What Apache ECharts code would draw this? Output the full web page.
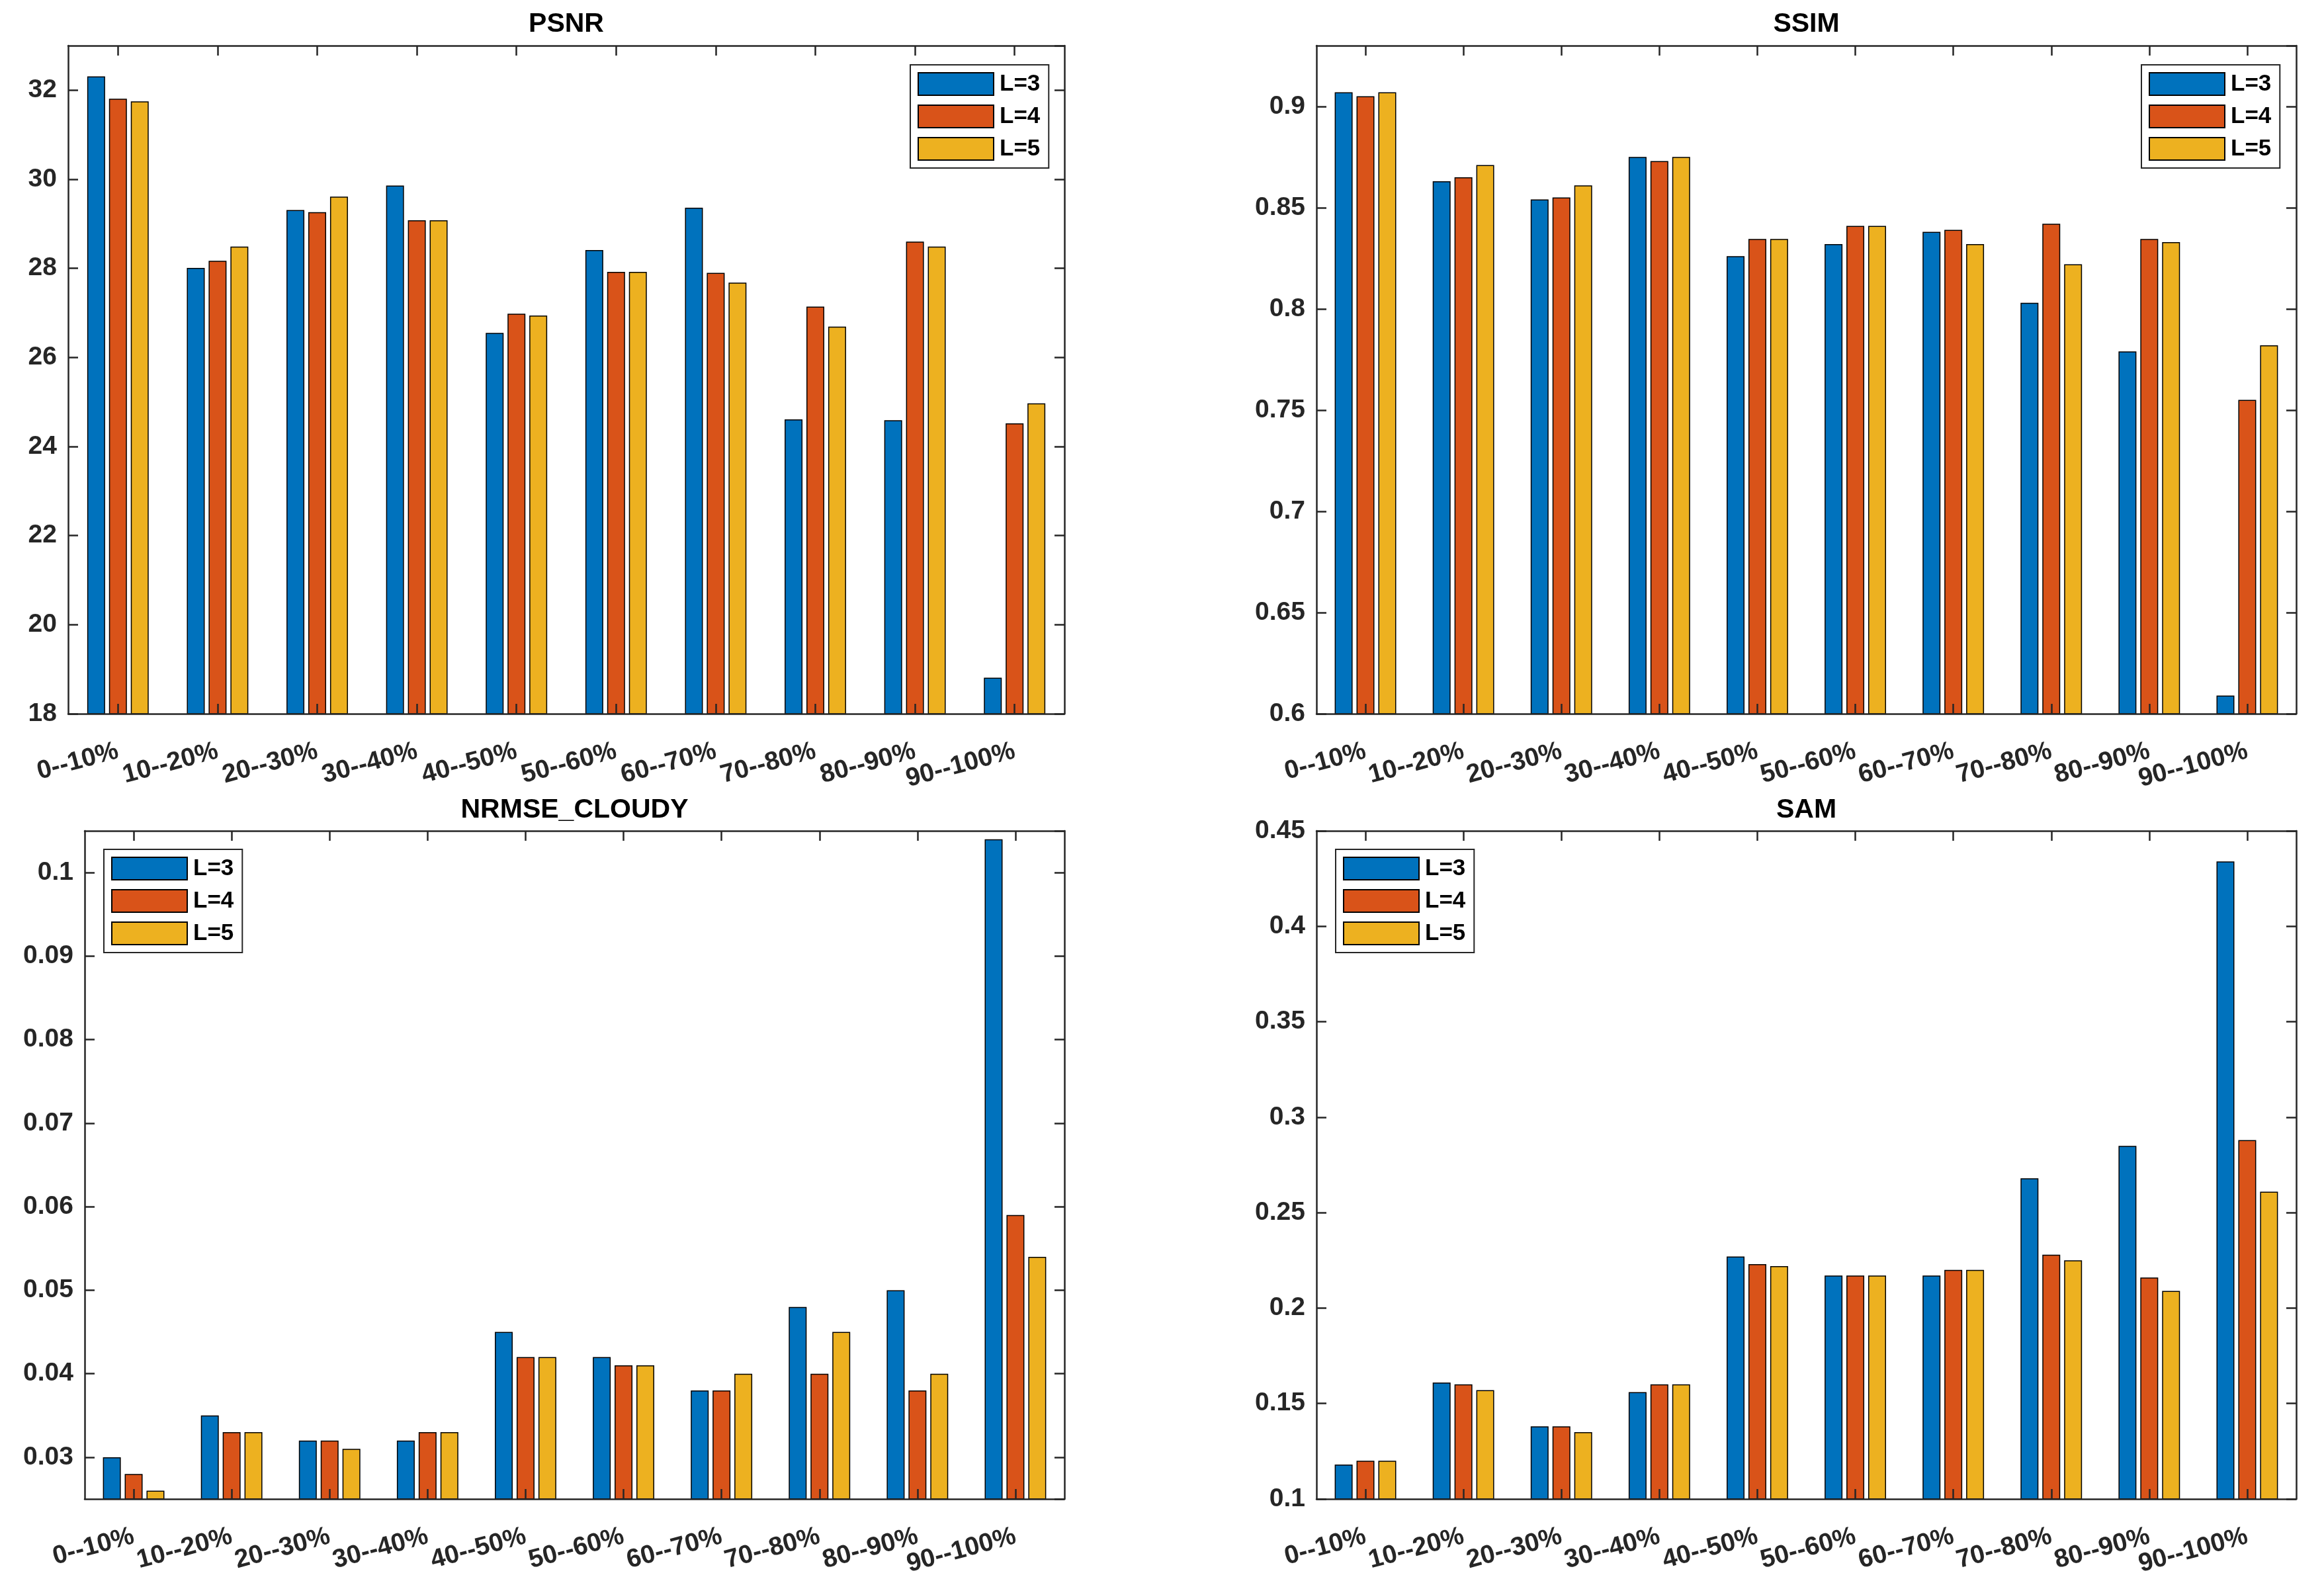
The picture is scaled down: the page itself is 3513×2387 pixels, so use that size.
<!DOCTYPE html>
<html>
<head>
<meta charset="utf-8">
<script src="https://cdn.jsdelivr.net/npm/echarts@6/dist/echarts.min.js"></script>
<style>
html,body{margin:0;padding:0;background:#fff;}
#chart{width:3513px;height:2387px;}
</style>
</head>
<body>
<div id="chart"></div>
<script>
// ---- data ----
const categories = ['0--10%','10--20%','20--30%','30--40%','40--50%','50--60%','60--70%','70--80%','80--90%','90--100%'];
const seriesNames = ['L=3','L=4','L=5'];
const colors = ['#0072BD','#D95319','#EDB120'];

const psnrL3 = [32.31, 28.01, 29.31, 29.86, 26.55, 28.41, 29.36, 24.61, 24.59, 18.81];
const psnrL4 = [31.81, 28.17, 29.26, 29.08, 26.98, 27.92, 27.90, 27.14, 28.60, 24.52];
const psnrL5 = [31.75, 28.49, 29.61, 29.08, 26.94, 27.92, 27.68, 26.69, 28.49, 24.97];

const ssimL3 = [0.907, 0.863, 0.854, 0.875, 0.826, 0.832, 0.838, 0.803, 0.779, 0.609];
const ssimL4 = [0.905, 0.865, 0.855, 0.873, 0.8345, 0.841, 0.839, 0.842, 0.8345, 0.755];
const ssimL5 = [0.907, 0.871, 0.861, 0.875, 0.8345, 0.841, 0.832, 0.822, 0.833, 0.782];

const nrmseL3 = [0.030, 0.035, 0.032, 0.032, 0.045, 0.042, 0.038, 0.048, 0.050, 0.104];
const nrmseL4 = [0.028, 0.033, 0.032, 0.033, 0.042, 0.041, 0.038, 0.040, 0.038, 0.059];
const nrmseL5 = [0.026, 0.033, 0.031, 0.033, 0.042, 0.041, 0.040, 0.045, 0.040, 0.054];

const samL3 = [0.118, 0.161, 0.138, 0.156, 0.227, 0.217, 0.217, 0.268, 0.285, 0.434];
const samL4 = [0.120, 0.160, 0.138, 0.160, 0.223, 0.217, 0.220, 0.228, 0.216, 0.288];
const samL5 = [0.120, 0.157, 0.135, 0.160, 0.222, 0.217, 0.220, 0.225, 0.209, 0.261];

const panelTitles = ['PSNR','SSIM','NRMSE_CLOUDY','SAM'];

// ---- layout / style ----
const panels = [
  {title: panelTitles[0], data:[psnrL3, psnrL4, psnrL5], grid:{left:103, top:69, width:1506, height:1010},
   y:{min:18, max:33, interval:2}, legend:{left:1376, top:98}, titleY:17},
  {title: panelTitles[1], data:[ssimL3, ssimL4, ssimL5], grid:{left:1990, top:69, width:1481, height:1010},
   y:{min:0.6, max:0.93, interval:0.05}, legend:{left:3237, top:98}, titleY:17},
  {title: panelTitles[2], data:[nrmseL3, nrmseL4, nrmseL5], grid:{left:128, top:1256, width:1481, height:1010},
   y:{min:0.025, max:0.105, splitNumber:8}, legend:{left:157, top:1284}, titleY:1205},
  {title: panelTitles[3], data:[samL3, samL4, samL5], grid:{left:1990, top:1256, width:1481, height:1010},
   y:{min:0.1, max:0.45, interval:0.05}, legend:{left:2019, top:1284}, titleY:1205}
];

const axisColor = '#262626';
const tickFont = '"Liberation Sans Narrow", "Liberation Sans", Arial, sans-serif';
const mainFont = '"Liberation Sans", Arial, sans-serif';

const option = {
  animation: false,
  backgroundColor: '#fff',
  title: [], grid: [], xAxis: [], yAxis: [], legend: [], series: []
};

panels.forEach((p, g) => {
  option.grid.push(Object.assign({containLabel:false}, p.grid));
  option.title.push({
    text: p.title, left: p.grid.left + p.grid.width/2, top: p.titleY, textAlign:'center', padding:0,
    textStyle:{fontFamily: mainFont, fontWeight:'bold', fontSize:41, color:'#000', lineHeight:40}
  });
  const lineStyle = {color: axisColor, width: 2.5};
  const tickStyle = {color: axisColor, width: 2.5};
  option.xAxis.push({
    type:'category', gridIndex:g, data:categories, position:'bottom', z:10,
    axisLine:{show:true, onZero:false, lineStyle},
    axisTick:{show:true, inside:true, alignWithLabel:true, length:15, lineStyle:tickStyle},
    axisLabel:{show:true, interval:0, rotate:15, margin:56, fontFamily:tickFont, fontWeight:'bold', fontSize:39, color:axisColor},
    splitLine:{show:false}
  });
  option.xAxis.push({
    type:'category', gridIndex:g, data:categories, position:'top', z:10,
    axisLine:{show:true, onZero:false, lineStyle},
    axisTick:{show:true, inside:true, alignWithLabel:true, length:15, lineStyle:tickStyle},
    axisLabel:{show:false}, splitLine:{show:false}
  });
  const yBase = Object.assign({type:'value', gridIndex:g}, p.y);
  option.yAxis.push(Object.assign({}, yBase, {
    position:'left', z:10,
    axisLine:{show:true, onZero:false, lineStyle},
    axisTick:{show:true, inside:true, length:15, lineStyle:tickStyle},
    axisLabel:{show:true, margin:17, showMinLabel: g!==2, showMaxLabel: g===3,
      fontFamily:tickFont, fontWeight:'bold', fontSize:39, color:axisColor},
    splitLine:{show:false}
  }));
  option.yAxis.push(Object.assign({}, yBase, {
    position:'right', z:10,
    axisLine:{show:true, onZero:false, lineStyle},
    axisTick:{show:true, inside:true, length:15, lineStyle:tickStyle},
    axisLabel:{show:false}, splitLine:{show:false}
  }));
  option.legend.push({
    show:true, orient:'vertical', left:p.legend.left, top:p.legend.top,
    data: seriesNames, icon:'rect', itemWidth:114, itemHeight:34, itemGap:13,
    padding:[11,13,11,11], borderColor:axisColor, borderWidth:2, backgroundColor:'#fff',
    selectedMode:false, z:20,
    textStyle:{fontFamily:mainFont, fontWeight:'bold', fontSize:35, color:'#000', padding:[0,0,0,4]}
  });
  p.data.forEach((vals, i) => {
    option.series.push({
      type:'bar', name: seriesNames[i], xAxisIndex: 2*g, yAxisIndex: 2*g,
      data: vals, barWidth: 27, barGap: '22%',
      itemStyle:{color: colors[i], borderColor:'#000', borderWidth:1.5},
      emphasis:{disabled:true}, z:2
    });
  });
});

const chart = echarts.init(document.getElementById('chart'), null, {renderer:'canvas'});
chart.setOption(option);
</script>
</body>
</html>
